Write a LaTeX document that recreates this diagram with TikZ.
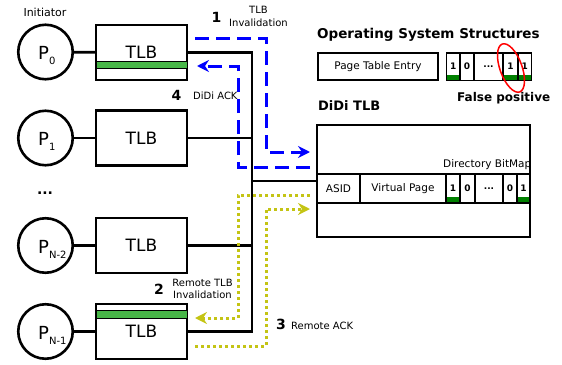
\documentclass[tikz,border=0pt]{standalone}
\usepackage{fontspec}
\setmainfont{DejaVu Sans}
\usetikzlibrary{arrows.meta,calc}
\definecolor{ablue}{RGB}{0,0,255}
\definecolor{ayel}{RGB}{196,196,20}
\definecolor{tlbgreen}{RGB}{72,182,72}
\definecolor{bitgreen}{RGB}{0,128,0}
\newcommand\fs[1]{\fontsize{#1}{#1}\selectfont}
\begin{document}
\begin{tikzpicture}[x=1pt,y=-1pt,
 proc/.style={circle,draw,line width=2.6pt,minimum size=54.5pt,inner sep=0},
 tlbbox/.style={draw,line width=2.2pt,minimum width=91pt,minimum height=55pt,inner sep=0,font=\fs{17}},
 bus/.style={line width=2.8pt},
 lbl/.style={inner sep=0,font=\fs{10}},
 lbltwo/.style={inner sep=0,align=center,font=\fontsize{10}{12.3}\selectfont},
 num/.style={inner sep=0,font=\bfseries\fs{14}},
 plabel/.style={anchor=base west,inner sep=0,font=\fs{18}},
 cell/.style={draw,line width=1.3pt,minimum height=29pt,inner sep=0,font=\fs{10.5}},
 bitcell/.style={draw,line width=1.5pt,minimum height=27.5pt,inner sep=0,font=\bfseries\fs{9}},
 bluedash/.style={draw=ablue,line width=3pt,dash pattern=on 14pt off 7pt,-{Stealth[length=12pt,width=12pt,inset=4pt]}},
 yeldot/.style={draw=ayel,line width=3pt,dash pattern=on 3pt off 3pt,-{Stealth[length=12pt,width=12pt,inset=4pt]}},
]
\useasboundingbox (0,0) rectangle (562,364);

% processors
\node[proc] (p0) at (45.5,52) {};
\node[proc] (p1) at (45.5,138) {};
\node[proc] (p2) at (45.5,245.5) {};
\node[proc] (p3) at (45.5,331.5) {};
\node[plabel] (p0t) at (38,59) {P\raisebox{-5.5pt}{\fs{10}0}};
\node[plabel] (p1t) at (38,145) {P\raisebox{-5.5pt}{\fs{10}1}};
\node[plabel] (p2t) at (38,253) {P\raisebox{-5.5pt}{\fs{10}N-2}};
\node[plabel] (p3t) at (38,339) {P\raisebox{-5.5pt}{\fs{10}N-1}};
\node[inner sep=0,font=\fs{11}] (init) at (45,12.8) {Initiator};
\node[inner sep=0,font=\bfseries\fs{14}] (dots) at (45,193) {...};

% TLBs
\node[tlbbox] (tlb0) at (141.5,52.5) {TLB};
\node[tlbbox] (tlb1) at (141.5,138) {TLB};
\node[tlbbox] (tlb2) at (141.5,245.5) {TLB};
\node[tlbbox] (tlb3) at (141.5,331.5) {TLB};
\filldraw[fill=tlbgreen,draw=black,line width=0.6pt] (96,61) rectangle (187,68);
\filldraw[fill=tlbgreen,draw=black,line width=0.6pt] (96,310.5) rectangle (187,318);

\draw[bus] (p0) -- (tlb0);
\draw[bus] (p1) -- (tlb1);
\draw[bus] (p2) -- (tlb2);
\draw[bus] (p3) -- (tlb3);

% bus
\coordinate (bt) at (252,52.5);
\coordinate (bb) at (252,331.5);
\coordinate (bm) at (252,181);
\draw[bus] (tlb0.east) -- (bt) -- (bb) -- (tlb3.east);
\draw[bus] (tlb1.east) -- (tlb1.east -| bt);
\draw[bus] (tlb2.east) -- (tlb2.east -| bt);

% OS structures
\node[inner sep=0,anchor=base west,font=\bfseries\fs{13.5}] (ost) at (317,38.3) {Operating System Structures};
\node[draw,line width=2pt,minimum width=120pt,minimum height=27pt,inner sep=0,font=\fs{10.5}] (pte) at (378,66.5) {Page Table Entry};
\fill[bitgreen] (446.7,74.5) rectangle (460,80.25);
\fill[bitgreen] (503,74.5) rectangle (531.3,80.25);
\node[bitcell,minimum width=13.3pt] (o1) at (453.35,66.5) {1};
\node[bitcell,minimum width=14pt] (o2) at (467,66.5) {0};
\node[bitcell,minimum width=29pt] (o3) at (488.5,66.5) {...};
\node[bitcell,minimum width=15pt] (o4) at (510.5,66.5) {1};
\node[bitcell,minimum width=13.3pt] (o5) at (524.65,66.5) {1};
\draw[red,line width=1.5pt,rotate around={20:(511,68)}] (511,68) ellipse [x radius=11,y radius=25.5];
\node[inner sep=0,anchor=base west,font=\bfseries\fs{12}] (fp) at (457,101.5) {False positive};

% DiDi TLB
\node[inner sep=0,anchor=base west,font=\bfseries\fs{13}] (dt) at (318,110) {DiDi TLB};
\node[draw,line width=2.2pt,minimum width=213pt,minimum height=112pt,inner sep=0] (didi) at (423.5,181) {};
\draw[bus] (bm) -- (didi.west);
\fill[bitgreen] (446.7,197) rectangle (459.3,202.5);
\fill[bitgreen] (517.7,197) rectangle (529.5,202.5);
\node[cell,minimum width=43pt] (asid) at (338.5,188.5) {ASID};
\node[cell,minimum width=86pt] (vp) at (403,188.5) {Virtual Page};
\node[cell,minimum width=14pt,font=\bfseries\fs{9}] (d1) at (453,188.5) {1};
\node[cell,minimum width=15pt,font=\bfseries\fs{9}] (d2) at (467.5,188.5) {0};
\node[cell,minimum width=28pt,font=\bfseries\fs{9}] (d3) at (489,188.5) {...};
\node[cell,minimum width=14pt,font=\bfseries\fs{9}] (d4) at (510,188.5) {0};
\node[cell,minimum width=13pt,font=\bfseries\fs{9}] (d5) at (523.5,188.5) {1};
\node[inner sep=0,anchor=base east,font=\fs{10.5}] (dbm) at (531.5,167.3) {Directory BitMap};

% messages
\coordinate (s1) at (195,38);   \coordinate (c1) at (266,152); \coordinate (e1) at (310,152);
\coordinate (s4) at (310,167);  \coordinate (c4) at (238,66);  \coordinate (e4) at (197,66);
\coordinate (s2) at (310,195);  \coordinate (c2) at (238,318); \coordinate (e2) at (195,318);
\coordinate (s3) at (195,346);  \coordinate (c3) at (266,209); \coordinate (e3) at (310,209);
\draw[bluedash] (s1) -| (c1) -- (e1);
\draw[bluedash] (s4) -| (c4) -- (e4);
\draw[yeldot] (s2) -| (c2) -- (e2);
\draw[yeldot] (s3) -| (c3) -- (e3);

\node[num] (n1) at (216.5,17.7) {1};
\node[lbltwo] (l1) at (258.5,16.5) {TLB\\Invalidation};
\node[num] (n4) at (176.5,95.5) {4};
\node[lbl,anchor=base west] (l4) at (193,99.5) {DiDi ACK};
\node[num] (n2) at (159,289.7) {2};
\node[lbltwo] (l2) at (202.5,288.8) {Remote TLB\\Invalidation};
\node[num] (n3) at (281,324.7) {3};
\node[lbl,anchor=base west] (l3) at (291,329.2) {Remote ACK};
\end{tikzpicture}
\end{document}
